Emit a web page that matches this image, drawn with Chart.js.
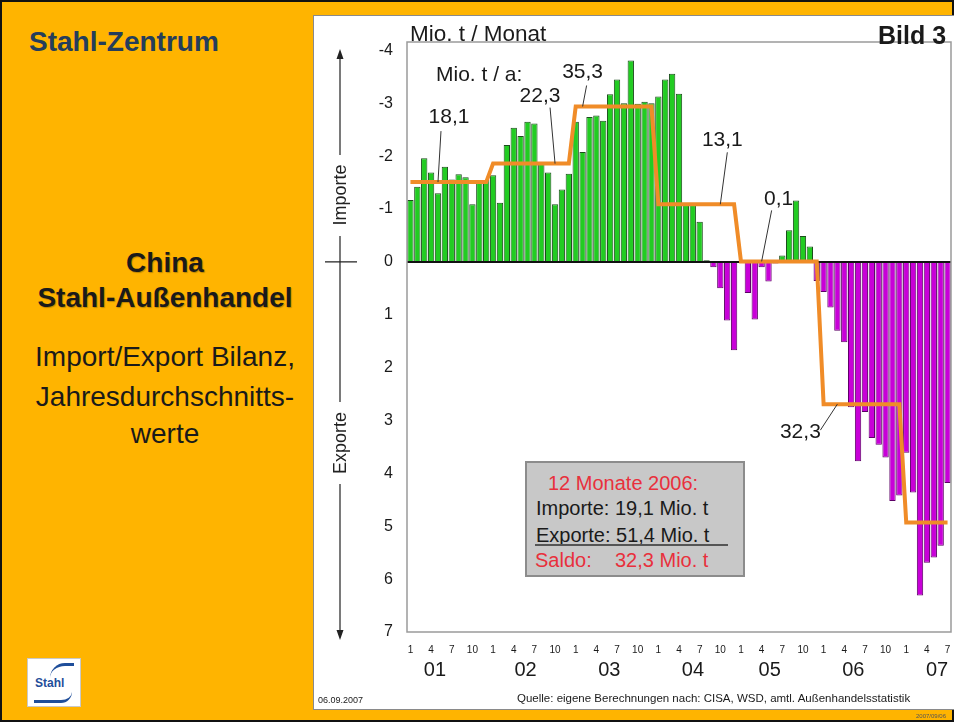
<!DOCTYPE html>
<html lang="de">
<head>
<meta charset="utf-8">
<title>China Stahl-Außenhandel</title>
<script src="https://cdn.jsdelivr.net/npm/chart.js@4.4.1/dist/chart.umd.min.js"></script>
<style>
  html, body { margin: 0; padding: 0; }
  body {
    width: 954px; height: 722px; position: relative; overflow: hidden;
    background: #ffb400; font-family: 'Liberation Sans', Arial, sans-serif; color: #1a1a1a;
  }
  #frame { position: absolute; left: 0; top: 0; width: 950px; height: 718px; border: 2px solid #111; }
  #panel { position: absolute; left: 313px; top: 15px; width: 645px; height: 693px; background: #fff; border: 1px solid #8a8a8a; }
  #chart { position: absolute; left: 0; top: 0; }
  .t { position: absolute; white-space: nowrap; line-height: 1; }
  .side { left: 10px; width: 310px; text-align: center; }
  .bold { font-weight: bold; text-shadow: 1px 1px 1px rgba(0,0,0,0.25); }
  #box { position: absolute; left: 525px; top: 461px; width: 216px; height: 112px; background: #c8c8c8; border: 2px solid #8c8c8c; }
  .red { color: #e8303c; }
  #logo { position: absolute; left: 27px; top: 658px; width: 52px; height: 47px; background: #fff; border: 1px solid #c9c9c9; }
</style>
</head>
<body>
<div id="frame"></div>
<div id="panel"></div>

<div class="t" style="left:29px; top:28px; font-size:28px; font-weight:bold; color:#253d5b;">Stahl-Zentrum</div>
<div class="t side bold" style="top:249px; font-size:28px;">China</div>
<div class="t side bold" style="top:284px; font-size:28px;">Stahl-Außenhandel</div>
<div class="t side" style="top:343px; font-size:28px;">Import/Export Bilanz,</div>
<div class="t side" style="top:383px; font-size:28px;">Jahresdurchschnitts-</div>
<div class="t side" style="top:420px; font-size:28px;">werte</div>
<div id="logo">
  <div class="t" style="left:7px; top:18px; font-size:12px; font-weight:bold; color:#1f4e9a;">Stahl</div>
  <div class="t" style="left:22px; top:4px; width:24px; height:12px; border-top:3px solid #1f4e9a; border-radius:40px 0 0 0;"></div>
  <div class="t" style="left:6px; top:33px; width:38px; height:8px; border-bottom:3px solid #1f4e9a; border-radius:0 0 30px 0;"></div>
</div>

<canvas id="chart" width="954" height="722"></canvas>

<div class="t" style="left:410px; top:23px; font-size:22.5px;">Mio. t / Monat</div>
<div class="t" style="left:878px; top:23px; font-size:25px; font-weight:bold;">Bild 3</div>
<div class="t" style="left:436px; top:63px; font-size:21px;">Mio. t / a:</div>

<div id="box"></div>
<div class="t red" style="left:548px; top:473px; font-size:20px;">12 Monate 2006:</div>
<div class="t" style="left:536px; top:498px; font-size:20px;">Importe: 19,1 Mio. t</div>
<div class="t" style="left:536px; top:525px; font-size:20px;">Exporte: 51,4 Mio. t</div>
<div class="t" style="left:535px; top:544px; width:193px; border-top:2px solid #555;"></div>
<div class="t red" style="left:535px; top:550px; font-size:20px;">Saldo:</div>
<div class="t red" style="left:615px; top:550px; font-size:20px;">32,3 Mio. t</div>

<div class="t" style="left:318px; top:696px; font-size:9px;">06.09.2007</div>
<div class="t" style="left:517px; top:693px; font-size:11.5px;">Quelle: eigene Berechnungen nach: CISA, WSD, amtl. Außenhandelsstatistik</div>
<div class="t" style="left:916px; top:713px; font-size:6px; color:#555;">2007/09/06</div>

<script>
// Jahre (Achsenbeschriftung) und Monatsmarken
const years = ["01", "02", "03", "04", "05", "06", "07"];
const monthTicks = [1, 4, 7, 10];
const yearTickIdx = [4, 17, 29, 41, 52, 64, 76];
const yTicks = [-4, -3, -2, -1, 0, 1, 2, 3, 4, 5, 6, 7];

// Saldo in Mio. t pro Monat: negativ = Nettoimporte, positiv = Nettoexporte
const saldo2001 = [-1.17, -1.42, -1.96, -1.69, -1.30, -1.80, -1.56, -1.66, -1.60, -1.09, -1.55, -1.55];
const saldo2002 = [-1.64, -1.12, -2.21, -2.54, -2.38, -2.65, -2.62, -1.86, -1.69, -1.09, -1.37, -1.67];
const saldo2003 = [-2.65, -2.08, -2.74, -2.77, -2.67, -3.17, -3.45, -3.00, -3.81, -2.99, -3.03, -3.00];
const saldo2004 = [-3.13, -3.45, -3.56, -3.18, -1.11, -1.11, -0.76, -0.03, 0.10, 0.50, 1.11, 1.67];
const saldo2005 = [0.00, 0.59, 1.09, 0.10, 0.37, 0.03, -0.12, -0.60, -1.16, -0.49, -0.29, 0.36];
const saldo2006 = [0.57, 0.86, 1.30, 1.52, 2.75, 3.77, 2.84, 3.33, 3.46, 3.70, 4.52, 4.42];
const saldo2007 = [3.61, 4.36, 6.31, 5.69, 5.59, 5.37, 4.18];

// Jahresdurchschnitt pro Monat (Mio. t/a / 12) und Beschriftung in Mio. t/a
const yearAvg = [-1.51, -1.86, -2.94, -1.09, -0.01, 2.69, 4.93];
const yearNotes = ["18,1", "22,3", "35,3", "13,1", "0,1", "32,3"];

// Lage der Beschriftungen relativ zum Ankerpunkt auf der Linie (px)
const noteLayout = [
    { idx: 4, tx: 11, ty: -65, sx: 3, sy: -51 },
    { idx: 21, tx: -15, ty: -67, sx: -5, sy: -56 },
    { idx: 25, tx: 0, ty: -34, sx: 4, sy: -21 },
    { idx: 45, tx: 2, ty: -64, sx: 7, sy: -52 },
    { idx: 51, tx: 17, ty: -62, sx: 10, sy: -51 },
    { idx: 62, tx: -37, ty: 28, sx: -17, sy: 26 },
];

const saldo = [].concat(saldo2001, saldo2002, saldo2003, saldo2004, saldo2005, saldo2006, saldo2007);
const labels = saldo.map((v, i) => years[Math.floor(i / 12)] + "/" + ((i % 12) + 1));
const avgLine = saldo.map((v, i) => yearAvg[Math.floor(i / 12)]);

const FONT = "'Liberation Sans', Arial, sans-serif";
Chart.defaults.font.family = FONT;
Chart.defaults.color = "#1a1a1a";

// horizontale Achsen sollen keinen Randabstand erzwingen
function fitX(height) {
    return (s) => {
        s.height = height;
        s.paddingLeft = 0;
        s.paddingRight = 0;
    };
}

const decorPlugin = {
    id: "decor",
    beforeDatasetDraw(chart, args) {
        // Nulllinie unter der orangen Linie
        if (args.meta.type !== "line") return;
        const { ctx, chartArea: a, scales: { y } } = chart;
        const y0 = y.getPixelForValue(0);
        ctx.save();
        ctx.strokeStyle = "#111";
        ctx.lineWidth = 2;
        ctx.beginPath();
        ctx.moveTo(a.left, y0);
        ctx.lineTo(a.right, y0);
        ctx.stroke();
        ctx.restore();
    },
    afterDraw(chart) {
        const { ctx, chartArea: a, scales: { x, y } } = chart;
        ctx.save();

        // Rahmen des Diagramms
        ctx.strokeStyle = "#9a9a9a";
        ctx.lineWidth = 1.5;
        ctx.strokeRect(a.left, a.top, a.right - a.left, a.bottom - a.top);

        // Pfeilachse links mit Importe / Exporte
        const ax = 340, y0 = y.getPixelForValue(0);
        ctx.strokeStyle = "#222";
        ctx.lineWidth = 1.2;
        ctx.beginPath();
        ctx.moveTo(ax, 52); ctx.lineTo(ax, 155);
        ctx.moveTo(ax, 236); ctx.lineTo(ax, 402);
        ctx.moveTo(ax, 484); ctx.lineTo(ax, 637);
        ctx.moveTo(325, y0); ctx.lineTo(357, y0);
        ctx.stroke();
        ctx.fillStyle = "#222";
        ctx.beginPath();
        ctx.moveTo(ax, 49); ctx.lineTo(ax - 3.5, 59); ctx.lineTo(ax + 3.5, 59); ctx.closePath();
        ctx.moveTo(ax, 640); ctx.lineTo(ax - 3.5, 630); ctx.lineTo(ax + 3.5, 630); ctx.closePath();
        ctx.fill();

        ctx.font = "18px " + FONT;
        ctx.textAlign = "center";
        ctx.textBaseline = "middle";
        [["Importe", 195], ["Exporte", 443]].forEach(([txt, cy]) => {
            ctx.save();
            ctx.translate(ax + 1, cy);
            ctx.rotate(-Math.PI / 2);
            ctx.fillText(txt, 0, 0);
            ctx.restore();
        });

        // Jahreswerte mit Hinweislinien
        ctx.font = "21px " + FONT;
        noteLayout.forEach((n, k) => {
            const px = x.getPixelForValue(n.idx);
            const py = y.getPixelForValue(yearAvg[k]);
            ctx.strokeStyle = "#333";
            ctx.lineWidth = 1;
            ctx.beginPath();
            ctx.moveTo(px + n.sx, py + n.sy);
            ctx.lineTo(px, py);
            ctx.stroke();
            ctx.fillStyle = "#1a1a1a";
            ctx.fillText(yearNotes[k], px + n.tx, py + n.ty);
        });
        ctx.restore();
    },
};

new Chart(document.getElementById("chart"), {
    data: {
        labels: labels,
        datasets: [
            {
                type: "line",
                data: avgLine,
                borderColor: "#f08c28",
                borderWidth: 4,
                pointRadius: 0,
                tension: 0,
                order: 0,
            },
            {
                type: "bar",
                data: saldo,
                backgroundColor: saldo.map((v) => (v < 0 ? "#22cc22" : "#c800d8")),
                borderColor: saldo.map((v) => (v < 0 ? "#1c4d1c" : "#5c0066")),
                borderWidth: 1,
                barPercentage: 0.92,
                categoryPercentage: 1,
                order: 1,
            },
        ],
    },
    options: {
        responsive: false,
        animation: false,
        layout: { padding: { left: 0, top: 42, right: 3, bottom: 0 } },
        plugins: { legend: { display: false }, tooltip: { enabled: false } },
        scales: {
            x: {
                type: "category",
                position: "bottom",
                weight: 0,
                grid: { display: false, drawTicks: false },
                border: { display: false },
                afterFit: fitX(22),
                ticks: {
                    autoSkip: false,
                    maxRotation: 0,
                    padding: 12,
                    font: { size: 10 },
                    callback: (v, i) => (monthTicks.includes((i % 12) + 1) ? String((i % 12) + 1) : ""),
                },
            },
            x2: {
                type: "category",
                position: "bottom",
                weight: 1,
                grid: { display: false, drawTicks: false },
                border: { display: false },
                afterFit: fitX(68),
                ticks: {
                    autoSkip: false,
                    maxRotation: 0,
                    padding: 4,
                    font: { size: 20 },
                    callback: (v, i) => {
                        const k = yearTickIdx.indexOf(i);
                        return k >= 0 ? years[k] : "";
                    },
                },
            },
            y: {
                reverse: true,
                min: -4.16,
                max: 7,
                grid: { display: false, drawTicks: false },
                border: { display: false },
                afterFit: (s) => { s.width = 407; },
                afterBuildTicks: (s) => { s.ticks = yTicks.map((v) => ({ value: v })); },
                ticks: {
                    padding: 14,
                    font: { size: 16 },
                    callback: (v) => String(v),
                },
            },
        },
    },
    plugins: [decorPlugin],
});
</script>
</body>
</html>
